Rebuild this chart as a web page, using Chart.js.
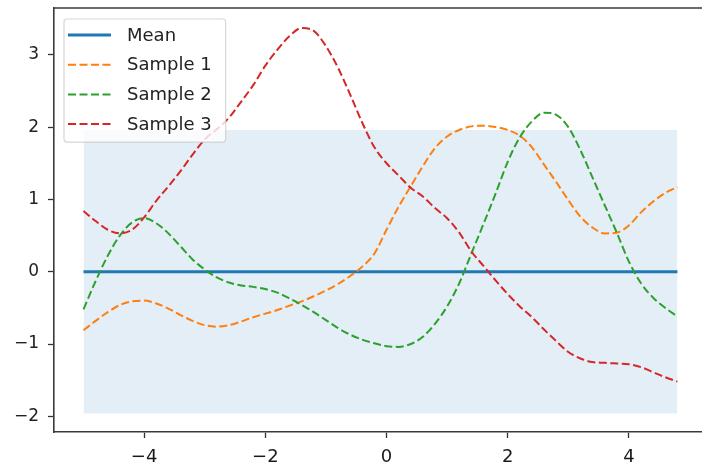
<!DOCTYPE html>
<html><head><meta charset="utf-8">
<script src="https://cdn.jsdelivr.net/npm/chart.js@4/dist/chart.umd.min.js"></script>
<style>
html,body{margin:0;padding:0;background:#fff;overflow:hidden;}
#wrap{position:relative;width:702px;height:467px;}
</style></head><body>
<div id="wrap"><canvas id="c" width="702" height="467"></canvas></div>
<script>
const xValues = [-5.0,-4.8,-4.6,-4.4,-4.2,-4.0,-3.8,-3.6,-3.4,-3.2,-3.0,-2.8,-2.6,-2.4,-2.2,-2.0,-1.8,-1.6,-1.4,-1.2,-1.0,-0.8,-0.6,-0.4,-0.2,0.0,0.2,0.4,0.6,0.8,1.0,1.2,1.4,1.6,1.8,2.0,2.2,2.4,2.6,2.8,3.0,3.2,3.4,3.6,3.8,4.0,4.2,4.4,4.6,4.8];
const meanValues = [0,0,0,0,0,0,0,0,0,0,0,0,0,0,0,0,0,0,0,0,0,0,0,0,0,0,0,0,0,0,0,0,0,0,0,0,0,0,0,0,0,0,0,0,0,0,0,0,0,0];
const sample1 = [-0.81,-0.68,-0.56,-0.46,-0.41,-0.40,-0.44,-0.51,-0.60,-0.68,-0.74,-0.76,-0.74,-0.69,-0.63,-0.58,-0.53,-0.47,-0.41,-0.34,-0.26,-0.17,-0.06,0.07,0.25,0.58,0.90,1.18,1.46,1.71,1.87,1.96,2.01,2.02,2.00,1.96,1.88,1.72,1.48,1.24,0.99,0.76,0.61,0.53,0.54,0.64,0.82,0.97,1.09,1.17];
const sample2 = [-0.52,-0.13,0.22,0.50,0.68,0.74,0.67,0.53,0.35,0.17,0.03,-0.08,-0.15,-0.19,-0.21,-0.24,-0.29,-0.37,-0.46,-0.56,-0.67,-0.78,-0.87,-0.94,-0.99,-1.03,-1.04,-1.00,-0.90,-0.72,-0.48,-0.16,0.25,0.66,1.08,1.52,1.86,2.08,2.20,2.17,2.00,1.68,1.30,0.92,0.54,0.14,-0.16,-0.36,-0.50,-0.62];
const sample3 = [0.84,0.70,0.58,0.53,0.58,0.75,0.98,1.18,1.39,1.62,1.83,1.97,2.13,2.35,2.58,2.85,3.07,3.26,3.37,3.33,3.12,2.82,2.45,2.06,1.72,1.50,1.33,1.16,1.04,0.88,0.74,0.54,0.28,0.08,-0.12,-0.31,-0.48,-0.63,-0.80,-0.96,-1.11,-1.20,-1.25,-1.26,-1.27,-1.28,-1.32,-1.39,-1.46,-1.52];
const bandX = [-5.0, 4.8];
const bandUpper = [1.96, 1.96];
const bandLower = [-1.96, -1.96];
const seriesLabels = ['Mean', 'Sample 1', 'Sample 2', 'Sample 3'];
const xTickValues = [-4, -2, 0, 2, 4];
const xTickLabels = ['\u22124', '\u22122', '0', '2', '4'];
const yTickValues = [-2, -1, 0, 1, 2, 3];
const yTickLabels = ['\u22122', '\u22121', '0', '1', '2', '3'];

const FONT = '"DejaVu Sans", sans-serif';
const pts = (xs, ys) => xs.map((x, i) => ({x: x, y: ys[i]}));

const dashed = (label, data, color, order) => ({
  label: label, data: pts(xValues, data), borderColor: color, backgroundColor: color,
  borderWidth: 2, borderDash: [8, 3.5], pointRadius: 0, fill: false,
  cubicInterpolationMode: 'monotone', order: order, inLegend: true
});

const frameAndLegend = {
  id: 'frameAndLegend',
  afterDatasetsDraw(chart) {
    const ctx = chart.ctx, a = chart.chartArea;
    ctx.save();
    // top spine
    ctx.strokeStyle = '#3a3a3a';
    ctx.lineWidth = 1.6;
    ctx.beginPath();
    ctx.moveTo(a.left, a.top); ctx.lineTo(chart.width, a.top);
    ctx.stroke();
    // legend
    const items = chart.data.datasets.filter(d => d.inLegend);
    ctx.font = '18px ' + FONT;
    const textW = Math.max.apply(null, items.map(d => ctx.measureText(d.label).width));
    const left = a.left + 10, top = a.top + 11;
    const rowH = 29.7;
    const w = 63 + textW + 14, h = 16 + rowH * (items.length - 1) + 18;
    ctx.beginPath();
    if (ctx.roundRect) ctx.roundRect(left, top, w, h, 3); else ctx.rect(left, top, w, h);
    ctx.fillStyle = 'rgba(255,255,255,0.8)';
    ctx.fill();
    ctx.strokeStyle = 'rgba(204,204,204,0.8)';
    ctx.lineWidth = 1.2;
    ctx.stroke();
    items.forEach((d, i) => {
      const cy = top + 16 + i * rowH;
      ctx.beginPath();
      ctx.setLineDash(d.borderDash || []);
      ctx.strokeStyle = d.borderColor;
      ctx.lineWidth = d.borderWidth;
      ctx.moveTo(left + 4, cy); ctx.lineTo(left + 47, cy);
      ctx.stroke();
      ctx.setLineDash([]);
      ctx.fillStyle = '#222';
      ctx.textAlign = 'left';
      ctx.textBaseline = 'middle';
      ctx.fillText(d.label, left + 63, cy + 1);
    });
    ctx.restore();
  }
};

const axisCommon = {
  type: 'linear',
  grid: { drawOnChartArea: false, drawTicks: true, tickLength: 6, tickWidth: 1.3, color: '#333' },
  border: { display: true, color: '#3a3a3a', width: 1.6 }
};

new Chart(document.getElementById('c'), {
  type: 'line',
  data: {
    datasets: [
      { label: 'band upper', data: pts(bandX, bandUpper), borderWidth: 0, pointRadius: 0,
        backgroundColor: 'rgba(31,119,180,0.12)', fill: '+1', order: 6 },
      { label: 'band lower', data: pts(bandX, bandLower), borderWidth: 0, pointRadius: 0,
        fill: false, order: 7 },
      { label: seriesLabels[0], data: pts(xValues, meanValues), borderColor: '#1f77b4',
        backgroundColor: '#1f77b4', borderWidth: 3, pointRadius: 0, fill: false, order: 4, inLegend: true },
      dashed(seriesLabels[1], sample1, '#ff7f0e', 3),
      dashed(seriesLabels[2], sample2, '#2ca02c', 2),
      dashed(seriesLabels[3], sample3, '#d62728', 1)
    ]
  },
  options: {
    responsive: false,
    animation: false,
    devicePixelRatio: 1,
    layout: { padding: { top: 8, right: 0, left: 0, bottom: 0 } },
    plugins: { legend: { display: false }, tooltip: { enabled: false } },
    scales: {
      x: Object.assign({}, axisCommon, {
        min: -5.487, max: 5.206,
        afterBuildTicks: s => { s.ticks = xTickValues.map(v => ({value: v})); },
        afterFit: s => { s.height = 35; s.paddingLeft = 0; s.paddingRight = 0; s.paddingTop = 0; s.paddingBottom = 0; },
        ticks: { autoSkip: false, maxRotation: 0, padding: 9, color: '#1a1a1a',
          font: { family: FONT, size: 18 },
          callback: v => xTickLabels[xTickValues.indexOf(v)] }
      }),
      y: Object.assign({}, axisCommon, {
        min: -2.217, max: 3.647,
        afterBuildTicks: s => { s.ticks = yTickValues.map(v => ({value: v})); },
        afterFit: s => { s.width = 54; s.paddingLeft = 0; s.paddingRight = 0; s.paddingTop = 0; s.paddingBottom = 0; },
        ticks: { autoSkip: false, padding: 9, color: '#222',
          font: { family: FONT, size: 17 },
          callback: v => yTickLabels[yTickValues.indexOf(v)] }
      })
    }
  },
  plugins: [frameAndLegend]
});
</script>
</body></html>
